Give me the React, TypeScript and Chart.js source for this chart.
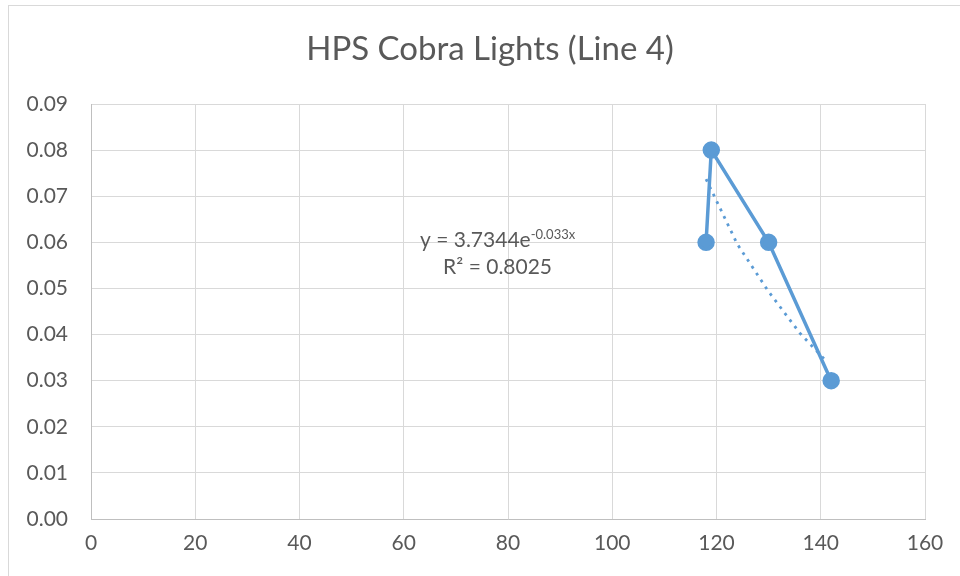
import React, { useEffect, useRef } from "react";
import { Chart, registerables } from "chart.js";

Chart.register(...registerables);

const TITLE = "HPS Cobra Lights (Line 4)";
const seriesX = [118, 119, 130, 142];
const seriesY = [0.06, 0.08, 0.06, 0.03];
const trendX = [118, 124, 130, 136, 141];
const trendY = [0.0737, 0.0596, 0.0493, 0.0403, 0.0343];
const xTicks = [0, 20, 40, 60, 80, 100, 120, 140, 160];
const yTicks = [0, 0.01, 0.02, 0.03, 0.04, 0.05, 0.06, 0.07, 0.08, 0.09];
const equationMain = "y = 3.7344e";
const equationSup = "-0.033x";
const rSquared = "R² = 0.8025";

const FONT = "Lato, 'Open Sans', sans-serif";
const TEXT = "#595959";
const BLUE = "#5B9BD5";

const framePlugin = {
  id: "frame",
  beforeDraw(chart: any) {
    const ctx = chart.ctx;
    ctx.save();
    ctx.fillStyle = "#ffffff";
    ctx.fillRect(0, 0, chart.width, chart.height);
    ctx.strokeStyle = "#d9d9d9";
    ctx.lineWidth = 1;
    ctx.strokeRect(8.5, 5.5, 1200, 1200);
    ctx.fillStyle = TEXT;
    ctx.font = `33px ${FONT}`;
    ctx.textAlign = "center";
    ctx.textBaseline = "alphabetic";
    ctx.fillText(TITLE, 490, 59.5);
    ctx.restore();
  },
};

const equationPlugin = {
  id: "equation",
  afterDatasetsDraw(chart: any) {
    const { ctx, scales } = chart;
    const cx = scales.x.getPixelForValue(78);
    const y1 = scales.y.getPixelForValue(0.059);
    const y2 = y1 + 27;
    ctx.save();
    ctx.fillStyle = TEXT;
    ctx.textBaseline = "alphabetic";
    ctx.font = `21px ${FONT}`;
    const wMain = ctx.measureText(equationMain).width;
    ctx.font = `13px ${FONT}`;
    const wSup = ctx.measureText(equationSup).width;
    const start = cx - (wMain + wSup) / 2;
    ctx.font = `21px ${FONT}`;
    ctx.textAlign = "left";
    ctx.fillText(equationMain, start, y1);
    ctx.font = `13px ${FONT}`;
    ctx.fillText(equationSup, start + wMain, y1 - 8);
    ctx.font = `21px ${FONT}`;
    ctx.textAlign = "center";
    ctx.fillText(rSquared, cx, y2);
    ctx.restore();
  },
};

export default function App() {
  const ref = useRef<HTMLCanvasElement | null>(null);
  useEffect(() => {
    if (!ref.current) return;
    const chart = new Chart(ref.current, {
      type: "scatter",
      data: {
        datasets: [
          {
            label: "Trend",
            data: trendX.map((x, i) => ({ x, y: trendY[i] })),
            showLine: true,
            borderColor: BLUE,
            borderWidth: 2.8,
            borderDash: [2.8, 5.4],
            pointRadius: 0,
            tension: 0,
          },
          {
            label: "Series",
            data: seriesX.map((x, i) => ({ x, y: seriesY[i] })),
            showLine: true,
            borderColor: BLUE,
            backgroundColor: BLUE,
            borderWidth: 3.5,
            pointRadius: 7,
            pointBackgroundColor: BLUE,
            pointBorderColor: BLUE,
            tension: 0,
          },
        ],
      } as any,
      options: {
        animation: false,
        responsive: true,
        maintainAspectRatio: false,
        layout: { padding: { left: 0, right: 35, top: 104, bottom: 0 } },
        plugins: {
          legend: { display: false },
          tooltip: { enabled: false },
          title: { display: false },
        },
        scales: {
          x: {
            type: "linear",
            min: 0,
            max: 160,
            afterBuildTicks: (s: any) => {
              s.ticks = xTicks.map((v) => ({ value: v }));
            },
            afterFit: (s: any) => {
              s.height = 57;
            },
            ticks: {
              color: TEXT,
              font: { family: FONT, size: 21 },
              padding: 12,
              maxRotation: 0,
            },
            grid: { color: "#d9d9d9", lineWidth: 1, drawTicks: false },
            border: { color: "#bfbfbf", width: 1 },
          },
          y: {
            type: "linear",
            min: 0,
            max: 0.09,
            afterBuildTicks: (s: any) => {
              s.ticks = yTicks.map((v) => ({ value: v }));
            },
            afterFit: (s: any) => {
              s.width = 91;
            },
            ticks: {
              color: TEXT,
              font: { family: FONT, size: 21 },
              padding: 23,
              callback: (v: any) => Number(v).toFixed(2),
            },
            grid: { color: "#d9d9d9", lineWidth: 1, drawTicks: false },
            border: { color: "#bfbfbf", width: 1 },
          },
        },
      } as any,
      plugins: [framePlugin, equationPlugin],
    });
    return () => chart.destroy();
  }, []);
  return (
    <div style={{ position: "absolute", left: 0, top: 0, width: 960, height: 576 }}>
      <canvas ref={ref} />
    </div>
  );
}
